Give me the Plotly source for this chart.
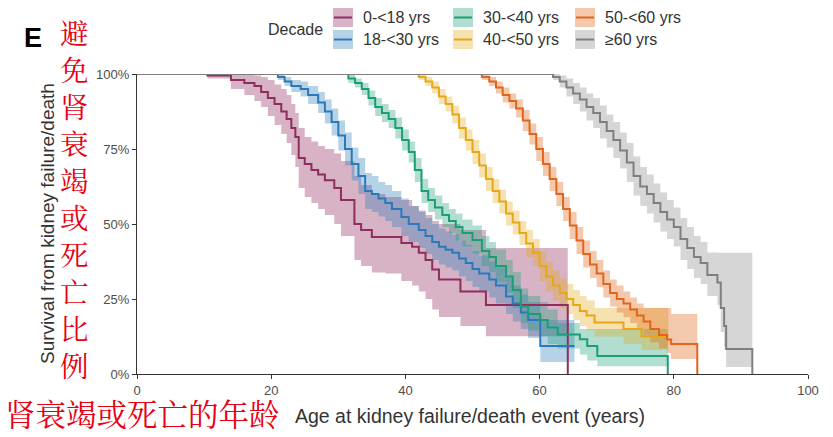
import plotly.graph_objects as go

# ---------------- data ----------------
decades = ["0-<18 yrs", "18-<30 yrs", "30-<40 yrs", "40-<50 yrs", "50-<60 yrs", "≥60 yrs"]
line_colors = ["#8f2d5f", "#2a7ab9", "#1b9e77", "#e6a817", "#e0661c", "#7f7f7f"]
band_colors = ["rgba(143,45,95,0.36)", "rgba(42,122,185,0.34)", "rgba(27,158,119,0.34)",
               "rgba(230,168,23,0.34)", "rgba(224,102,28,0.36)", "rgba(128,128,128,0.32)"]

# 0-<18 yrs
age_0 = [0, 10.5, 14, 16, 17.5, 18.5, 19.5, 20.5, 21.5, 22.3, 23, 23.6, 24.1, 25, 26, 27, 28, 29.4,
         30.4, 32.4, 33.4, 35, 37, 39.4, 41, 42, 43, 44, 45, 48.2, 52, 64.2, 64.2]
surv_0 = [100, 99.5, 98, 97, 96, 94, 92, 90, 87.5, 85, 82, 79, 72, 70, 68, 66.5, 64.6, 62,
          58, 50, 48, 45.7, 45.7, 43.7, 42.4, 40.4, 38, 34.8, 31.5, 27.5, 23, 23, 0]
hi_0 = [100, 100, 100, 100, 99.5, 99, 98, 96.5, 95, 93, 90, 87, 82, 79, 77.5, 76, 75, 73.5,
        71, 66, 63, 60, 59, 58, 56, 54.5, 53, 51, 50, 48, 42, 42, 42]
lo_0 = [100, 98.5, 95, 93, 91, 89, 86, 83, 80, 77, 73, 69, 62, 59, 57, 55, 53, 50,
        46, 38, 36, 33.8, 33.5, 31, 29.5, 27.5, 25, 21.5, 19, 16, 12.6, 12.6, 12.6]

# 18-<30 yrs
age_1 = [0, 21, 22, 23, 24.4, 25.5, 27, 28, 29, 30, 31, 32, 33, 34, 35, 36, 37, 38, 39.4, 40.5, 42,
         43, 44, 45, 46, 47, 48, 49, 50, 51, 52.5, 53.5, 55, 56, 57.2, 58.3, 60.1, 65.2]
surv_1 = [100, 99, 97.5, 96, 95, 93, 90.5, 87.5, 84, 79.5, 75, 70, 66, 61, 60, 58.5, 57, 55, 52.3, 50,
          48, 46, 44, 42.4, 41.4, 40.4, 38.5, 37, 35, 33.5, 31.5, 29.5, 25.8, 23.5, 20.5, 18, 9.3, 9.3]
hi_1 = [100, 100, 99, 98, 97.5, 96, 94, 91.5, 88.5, 84.5, 80.5, 75.5, 72, 67, 66, 64, 63, 61, 58.5, 56,
        54, 52, 50, 48.5, 47.5, 46.5, 44.5, 43, 41, 39.5, 37.5, 35.5, 32, 29.5, 26.5, 24, 18, 18]
lo_1 = [100, 98, 96, 94, 92.5, 90, 87, 83.5, 79.5, 74.5, 69.5, 64.5, 60, 55, 54, 52.5, 51, 49, 46, 44,
        42, 40, 38, 36.5, 35.5, 34.5, 32.5, 31, 29, 27.5, 25.5, 23.5, 20, 17.5, 15, 12, 4, 4]

# 30-<40 yrs
age_2 = [0, 31.5, 32.5, 33.5, 34.5, 35.5, 36.5, 37.5, 38.5, 39.5, 40.5, 41.4, 42.4, 43.4, 44.4, 45.5,
         46.5, 47.5, 48.5, 50, 51.4, 52.5, 53.5, 55, 56, 57.2, 58.3, 60.1, 61.2, 62.7, 66, 67.1, 68.6,
         79.1, 79.1]
surv_2 = [100, 98.5, 97, 95, 92, 89, 87, 85, 82, 78, 74, 68, 61, 58, 55.5, 53, 51, 49, 47, 44.7, 41,
          39, 36, 32.5, 28, 22.5, 20, 18, 15.5, 13.2, 11.6, 9.3, 6, 6, 0]
hi_2 = [100, 100, 98.5, 97, 94.5, 92, 90, 88, 85.5, 81.5, 77.5, 72, 65, 62, 59.5, 57, 55, 53.5, 51.5,
        49.5, 46, 44, 41.5, 38, 34, 28.5, 26, 24, 21.5, 17, 15, 15, 15, 15, 15]
lo_2 = [100, 97, 95.5, 93, 89.5, 86, 84, 82, 78.5, 74.5, 70.5, 64, 57, 54, 51.5, 49, 47, 44.5, 42.5,
        40, 36, 34, 30.5, 27, 22, 17, 14.5, 12.5, 10, 8.5, 6.5, 4.5, 2.6, 2.6, 2.6]

# 40-<50 yrs
age_3 = [0, 42, 43, 44, 45, 46, 47, 48, 49, 50, 51, 52, 53, 54, 55, 56, 57, 58, 59, 60, 61, 62, 63,
         64, 65, 66, 67, 68.2, 72.5, 75.2, 79.2]
surv_3 = [100, 99, 97.5, 95.5, 92.5, 90, 86.5, 82, 78, 74, 69.5, 65, 61, 57.5, 53.5, 50.5, 47, 43.5,
          40.5, 36, 32.5, 29.5, 27, 25, 23, 21, 19.5, 17.2, 15, 12.6, 12.6]
hi_3 = [100, 100, 99, 97.5, 95, 92.5, 89.5, 85.5, 81.5, 78, 73.5, 69, 65, 61.5, 57.5, 54.5, 51, 48,
        45, 41, 37.5, 34.5, 32, 30, 28, 26, 24.5, 22, 22, 22, 22]
lo_3 = [100, 98, 96, 93.5, 90, 87.5, 83.5, 78.5, 74.5, 70, 65.5, 61, 57, 53.5, 49.5, 46.5, 43, 39,
        36, 31, 27.5, 24.5, 22, 20, 18, 16, 14.5, 12.5, 10, 8, 8]

# 50-<60 yrs
age_4 = [0, 51.4, 52.5, 53.5, 54.5, 55.5, 56.5, 57.5, 58.5, 59.5, 60.5, 61.5, 62.5, 63.5, 64.5, 65.5,
         66.5, 67.5, 68.5, 69.5, 70.5, 71.5, 72.5, 73.5, 74.5, 75.5, 76.5, 77.8, 79, 79.6, 83.5, 83.5]
surv_4 = [100, 99, 97.5, 95.5, 93, 91, 88.5, 84.5, 80, 75, 70, 65, 60, 55, 49.5, 44.5, 40, 36.5,
          33.5, 30, 27, 25, 23.5, 21.5, 19.5, 17.5, 15, 13, 11.5, 10, 9.3, 0]
hi_4 = [100, 100, 99, 97.5, 95.5, 93.5, 91.5, 88, 83.5, 79, 74, 69, 64, 59, 54, 49, 44.5, 41,
        38, 34.5, 31.5, 29.5, 27.5, 25.5, 23.5, 22, 22, 22, 22, 20, 20, 20]
lo_4 = [100, 98, 96, 93.5, 90.5, 88.5, 85.5, 81, 76.5, 71, 66, 61, 56, 51, 45, 40, 35.5, 32,
        29, 25.5, 22.5, 20.5, 19, 17, 15, 13, 10.5, 8.5, 7, 5, 5, 5]

# >=60 yrs
age_5 = [0, 62, 63, 64, 65, 66, 67, 68, 69, 70, 71, 72, 73, 74, 75, 76, 77, 78, 79, 80, 81, 82, 83,
         84, 85, 86.5, 87, 87.5, 87.8, 91.7, 91.7]
surv_5 = [100, 99, 97.5, 95.5, 93.5, 91.5, 89, 87, 84, 81, 78, 74.5, 70.5, 66, 62.5, 60, 57, 54, 51.5,
          49, 45, 42, 39, 37, 33, 30.5, 22, 16, 8.3, 8.3, 0]
hi_5 = [100, 100, 99.5, 98.5, 97, 95.5, 93.5, 92, 89.5, 86.5, 84, 80.5, 77, 72.5, 69, 66.5, 63.5, 60.5,
        58, 55.5, 52, 49, 46, 44, 40.5, 40.4, 40.4, 40.4, 40.4, 40.4, 40.4]
lo_5 = [100, 98, 95.5, 92.5, 90, 87.5, 84.5, 82, 78.5, 75.5, 72, 68.5, 64, 59.5, 56, 53.5, 50.5, 47.5,
        45, 42.5, 38, 35, 32, 30, 26, 23, 14, 9, 2.3, 2.3, 2.3]

ages = [age_0, age_1, age_2, age_3, age_4, age_5]
survs = [surv_0, surv_1, surv_2, surv_3, surv_4, surv_5]
his = [hi_0, hi_1, hi_2, hi_3, hi_4, hi_5]
los = [lo_0, lo_1, lo_2, lo_3, lo_4, lo_5]

x_ticks = [0, 20, 40, 60, 80, 100]
y_ticks = [0, 25, 50, 75, 100]
y_tick_labels = ["0%", "25%", "50%", "75%", "100%"]

# ---------------- figure ----------------
fig = go.Figure()

for i in range(len(decades)):
    fig.add_trace(go.Scatter(x=ages[i], y=los[i], mode="lines", line=dict(width=0, shape="hv"),
                             showlegend=False, hoverinfo="skip", cliponaxis=False))
    fig.add_trace(go.Scatter(x=ages[i], y=his[i], mode="lines", line=dict(width=0, shape="hv"),
                             fill="tonexty", fillcolor=band_colors[i], showlegend=False,
                             hoverinfo="skip", cliponaxis=False))

for i in range(len(decades)):
    fig.add_trace(go.Scatter(x=ages[i], y=survs[i], mode="lines", name=decades[i],
                             line=dict(color=line_colors[i], width=2, shape="hv"),
                             showlegend=False, cliponaxis=False))

L, R, T, B = 137, 25, 74, 63
W, H = 833, 437
pw, ph = W - L - R, H - T - B


def px(x):
    return (x - L) / pw


def py(y):
    return (H - B - y) / ph


font_main = "Liberation Sans, Arial, Helvetica, sans-serif"
font_cjk = "Noto Serif CJK SC, Noto Sans CJK SC, sans-serif"

annotations = []
shapes = []

# legend (manual, 3 columns x 2 rows)
annotations.append(dict(x=px(325), y=py(30), xref="paper", yref="paper", text="Decade",
                        showarrow=False, xanchor="right", yanchor="middle",
                        font=dict(family=font_main, size=16, color="#333333")))
col_x = [333, 453, 575]
row_y = [17.5, 39.5]
order = [(0, 0), (0, 1), (1, 0), (1, 1), (2, 0), (2, 1)]
for i, (c, r) in enumerate(order):
    x0, x1 = col_x[c], col_x[c] + 20
    yc = row_y[r]
    shapes.append(dict(type="rect", xref="paper", yref="paper", x0=px(x0), x1=px(x1),
                       y0=py(yc + 9.5), y1=py(yc - 9.5), fillcolor=band_colors[i], line=dict(width=0)))
    shapes.append(dict(type="line", xref="paper", yref="paper", x0=px(x0 + 1), x1=px(x1 - 1),
                       y0=py(yc), y1=py(yc), line=dict(color=line_colors[i], width=2)))
    annotations.append(dict(x=px(x1 + 8), y=py(yc), xref="paper", yref="paper", text=decades[i],
                            showarrow=False, xanchor="left", yanchor="middle",
                            font=dict(family=font_main, size=16, color="#333333")))

# panel letter
annotations.append(dict(x=px(22), y=py(38), xref="paper", yref="paper", text="<b>E</b>",
                        showarrow=False, xanchor="left", yanchor="middle",
                        font=dict(family=font_main, size=27, color="#000000")))

# axis titles
annotations.append(dict(x=px(47), y=py(224), xref="paper", yref="paper",
                        text="Survival from kidney failure/death", textangle=-90, showarrow=False,
                        xanchor="center", yanchor="middle",
                        font=dict(family=font_main, size=19, color="#333333")))
annotations.append(dict(x=px(293), y=py(416), xref="paper", yref="paper",
                        text="Age at kidney failure/death event (years)", showarrow=False,
                        xanchor="left", yanchor="middle",
                        font=dict(family=font_main, size=19.5, color="#333333")))

# Chinese labels
annotations.append(dict(x=px(3), y=py(437), xref="paper", yref="paper",
                        text="肾衰竭或死亡的年龄", showarrow=False, xanchor="left", yanchor="bottom",
                        font=dict(family=font_cjk, size=30.5, color="#e60012")))
annotations.append(dict(x=px(74), y=py(198), xref="paper", yref="paper",
                        text="<br>".join(list("避免肾衰竭或死亡比例")), showarrow=False,
                        xanchor="center", yanchor="middle",
                        font=dict(family=font_cjk, size=28.5, color="#e60012")))

fig.update_layout(
    width=W, height=H,
    margin=dict(l=L, r=R, t=T, b=B, pad=0),
    paper_bgcolor="white", plot_bgcolor="white",
    showlegend=False,
    annotations=annotations, shapes=shapes,
    xaxis=dict(range=[0, 100], tickvals=x_ticks, ticks="outside", ticklen=4, tickwidth=1,
               tickcolor="#333333", showline=True, linecolor="#333333", linewidth=1.2,
               showgrid=False, zeroline=False,
               tickfont=dict(family=font_main, size=13, color="#4d4d4d")),
    yaxis=dict(range=[0, 100], tickvals=y_ticks, ticktext=y_tick_labels, ticks="outside", ticklen=4,
               tickwidth=1, tickcolor="#333333", showline=True, linecolor="#333333", linewidth=1.2,
               showgrid=False, zeroline=False,
               tickfont=dict(family=font_main, size=13, color="#4d4d4d")),
)

fig.write_html("out.html", config={"displayModeBar": False},
               post_script="document.body.style.margin='0';")
